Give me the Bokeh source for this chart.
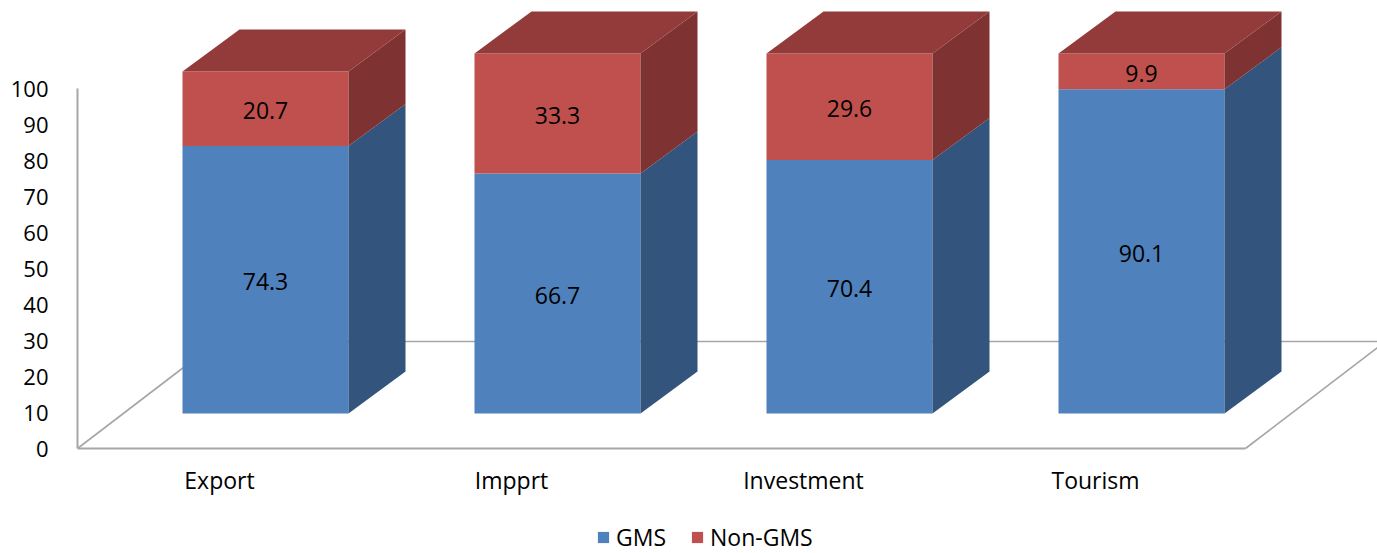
from bokeh.plotting import figure
from bokeh.models import (Range1d, FixedTicker, Legend, LegendItem, ColumnDataSource)
from bokeh.core.properties import value
from bokeh.embed import file_html
from bokeh.resources import INLINE

# ---- data ----
categories = ["Export", "Impprt", "Investment", "Tourism"]
gms = [74.3, 66.7, 70.4, 90.1]
non_gms = [20.7, 33.3, 29.6, 9.9]
y_ticks = [0, 10, 20, 30, 40, 50, 60, 70, 80, 90, 100]

# ---- styling / 3D projection constants ----
FONT = "Open Sans"
FS = "22px"
BLUE, BLUE_SIDE = "#4F81BD", "#33547D"
RED, RED_SIDE, RED_TOP = "#C0504D", "#7E3231", "#933B3A"
GRAY = "#A6A6A6"

W, H = 1377, 553
LEFT = 77            # frame left (px)
ZERO_PX = 448        # pixel row of value 0 on the front plane
PX_X = 292.0         # pixels per category unit
PX_Y = 3.6           # pixels per value unit
CAT0_PX = 219        # pixel column of first category on the front plane

front_dx, front_dy = 46 / PX_X, 35 / PX_Y     # bar front plane offset from axis plane
depth_dx, depth_dy = 57 / PX_X, 42 / PX_Y     # bar depth
floor_dx, floor_dy = 140 / PX_X, 107 / PX_Y   # floor depth
bar_w = 166 / PX_X
x_left = (LEFT - CAT0_PX) / PX_X
x_right = x_left + 1168 / PX_X
label_y = -31 / PX_Y

n = len(categories)
idx = list(range(n))

p = figure(width=W, height=H, output_backend="svg", toolbar_location=None,
           x_axis_location=None,
           x_range=Range1d(x_left, (W - CAT0_PX) / PX_X),
           y_range=Range1d((ZERO_PX - H) / PX_Y, ZERO_PX / PX_Y),
           min_border_left=LEFT, min_border_right=0, min_border_top=0, min_border_bottom=0)
p.outline_line_color = None
p.xgrid.visible = False
p.ygrid.visible = False
p.background_fill_color = "white"

# floor (drawn first so bars hide parts of it)
fx = [[x_left, x_left + floor_dx], [x_right, x_right + floor_dx],
      [x_left + floor_dx, x_right + floor_dx]]
fy = [[0, floor_dy], [0, floor_dy], [floor_dy, floor_dy]]
p.multi_line(fx, fy, line_color=GRAY, line_width=1.6)
p.line([x_left, x_right], [0, 0], line_color=GRAY, line_width=2)

# bars
xc = [i + front_dx for i in idx]
g_bot = [front_dy] * n
g_top = [front_dy + g for g in gms]
r_top = [front_dy + g + r for g, r in zip(gms, non_gms)]

r_g = p.vbar(x=xc, width=bar_w, bottom=g_bot, top=g_top, fill_color=BLUE, line_color=None)
r_r = p.vbar(x=xc, width=bar_w, bottom=g_top, top=r_top, fill_color=RED, line_color=None)

def side(x, b, t):
    xr = x + bar_w / 2
    return [xr, xr + depth_dx, xr + depth_dx, xr], [b, b + depth_dy, t + depth_dy, t]

gs = [side(x, b, t) for x, b, t in zip(xc, g_bot, g_top)]
rs = [side(x, b, t) for x, b, t in zip(xc, g_top, r_top)]
p.patches([s[0] for s in gs], [s[1] for s in gs], fill_color=BLUE_SIDE, line_color=None)
p.patches([s[0] for s in rs], [s[1] for s in rs], fill_color=RED_SIDE, line_color=None)

tops_x = [[x - bar_w / 2, x + bar_w / 2, x + bar_w / 2 + depth_dx, x - bar_w / 2 + depth_dx] for x in xc]
tops_y = [[t, t, t + depth_dy, t + depth_dy] for t in r_top]
p.patches(tops_x, tops_y, fill_color=RED_TOP, line_color=None)

# data labels
lab = ColumnDataSource(dict(
    x=xc + xc,
    y=[b + g / 2 - 0.5 for b, g in zip(g_bot, gms)] + [b + r / 2 - 0.5 for b, r in zip(g_top, non_gms)],
    t=[f"{v}" for v in gms] + [f"{v}" for v in non_gms]))
p.text(x="x", y="y", text="t", source=lab, text_font=value(FONT), text_font_size="23px",
       text_align="center", text_baseline="middle", text_color="black")

# category labels (front plane, under the floor)
cat_src = ColumnDataSource(dict(x=idx, y=[label_y] * n, t=categories))
p.text(x="x", y="y", text="t", source=cat_src, text_font=value(FONT), text_font_size="23px",
       text_align="center", text_baseline="middle", text_color="black")

# value axis
ya = p.yaxis[0]
ya.ticker = FixedTicker(ticks=y_ticks)
ya.bounds = (0, 100)
ya.axis_line_color = GRAY
ya.axis_line_width = 2
ya.major_tick_line_color = None
ya.minor_tick_line_color = None
ya.major_label_standoff = 23
ya.major_label_text_font = FONT
ya.major_label_text_font_size = FS
ya.major_label_text_color = "black"

legend = Legend(items=[LegendItem(label="GMS", renderers=[r_g]),
                       LegendItem(label="Non-GMS", renderers=[r_r])],
                orientation="horizontal", location=(596 - LEFT, 0),
                glyph_width=14, glyph_height=14, label_standoff=6, spacing=24,
                padding=0, margin=0, border_line_color=None, background_fill_alpha=0,
                label_text_font=FONT, label_text_font_size="23px", label_text_color="black")
p.add_layout(legend, "center")

open("out.html", "w").write(file_html(p, INLINE))
